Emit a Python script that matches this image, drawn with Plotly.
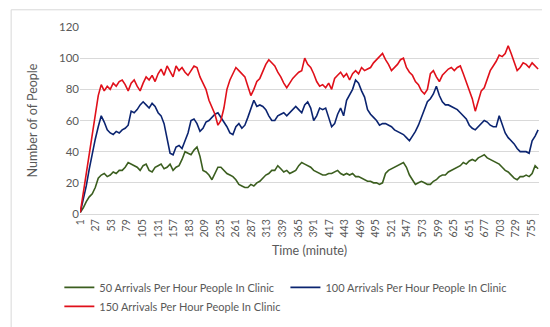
import plotly.graph_objects as go

# minutes sampled every 5 minutes (1, 6, 11, ... 766)
minutes = list(range(1, 767, 5))

arrivals_50 = [
    1, 4, 8, 11, 13, 17, 23, 25, 26, 24,
    25, 27, 26, 28, 28, 30, 33, 32, 31, 30,
    28, 31, 32, 28, 27, 30, 31, 32, 29, 30,
    32, 28, 30, 31, 35, 40, 39, 38, 41, 43,
    37, 28, 27, 25, 22, 26, 30, 30, 28, 26,
    25, 24, 22, 19, 18, 17, 17, 19, 18, 20,
    21, 23, 25, 26, 28, 28, 31, 29, 27, 28,
    26, 27, 28, 31, 33, 32, 31, 30, 28, 27,
    26, 25, 25, 26, 26, 27, 28, 26, 25, 26,
    25, 26, 24, 24, 23, 22, 21, 21, 20, 20,
    19, 20, 26, 28, 29, 30, 31, 32, 33, 30,
    25, 22, 19, 20, 21, 20, 19, 19, 21, 22,
    24, 25, 25, 27, 28, 29, 30, 31, 33, 32,
    34, 35, 34, 36, 37, 38, 36, 35, 34, 33,
    32, 30, 28, 27, 25, 23, 22, 24, 24, 25,
    24, 26, 31, 29,
]

arrivals_100 = [
    1, 9, 18, 29, 39, 48, 56, 63, 59, 54,
    52, 51, 53, 52, 54, 55, 57, 66, 65, 67,
    70, 72, 70, 68, 71, 69, 65, 63, 58, 49,
    39, 38, 43, 44, 42, 47, 52, 60, 61, 58,
    53, 55, 59, 60, 62, 64, 65, 62, 59, 56,
    52, 51, 56, 58, 55, 57, 62, 68, 73, 69,
    70, 69, 67, 63, 60, 60, 63, 64, 65, 63,
    65, 67, 69, 67, 65, 70, 72, 68, 60, 63,
    68, 67, 68, 62, 56, 58, 64, 68, 63, 73,
    77, 80, 86, 84, 79, 75, 67, 64, 62, 60,
    57, 58, 58, 57, 56, 54, 53, 52, 51, 49,
    47, 50, 53, 57, 62, 66, 72, 74, 77, 82,
    76, 72, 70, 70, 69, 68, 67, 65, 63, 61,
    57, 55, 54, 56, 58, 60, 59, 57, 56, 56,
    63, 58, 52, 49, 47, 45, 42, 40, 40, 40,
    39, 47, 50, 54,
]

arrivals_150 = [
    1, 14, 27, 38, 52, 64, 76, 83, 79, 82,
    80, 84, 82, 85, 86, 83, 79, 84, 86, 82,
    79, 84, 88, 86, 89, 85, 90, 93, 89, 95,
    91, 88, 95, 92, 94, 91, 89, 92, 95, 94,
    88, 84, 80, 73, 68, 64, 57, 60, 68, 80,
    86, 90, 94, 92, 90, 88, 82, 76, 80, 85,
    87, 92, 96, 99, 97, 95, 91, 88, 84, 81,
    84, 87, 89, 91, 92, 100, 96, 94, 90, 85,
    82, 83, 81, 84, 80, 87, 89, 91, 88, 90,
    86, 90, 92, 90, 94, 92, 93, 94, 97, 99,
    101, 103, 99, 96, 92, 94, 96, 99, 100, 94,
    91, 89, 85, 83, 79, 77, 80, 90, 92, 88,
    85, 89, 91, 93, 94, 92, 94, 95, 90, 85,
    80, 74, 66, 73, 79, 81, 86, 92, 95, 98,
    102, 101, 103, 108, 103, 97, 92, 94, 97, 96,
    94, 97, 95, 93,
]

series_names = [
    "50 Arrivals Per Hour People In Clinic",
    "100 Arrivals Per Hour People In Clinic",
    "150 Arrivals Per Hour People In Clinic",
]
series_colors = ["#3b5e1f", "#0b2470", "#e0101a"]

x_ticks = list(range(1, 756, 26))
y_ticks = [0, 20, 40, 60, 80, 100, 120]

FONT = "Lato, 'Open Sans', sans-serif"
GREY = "#595959"

fig = go.Figure()
for name, vals, col in zip(series_names, [arrivals_50, arrivals_100, arrivals_150], series_colors):
    assert len(vals) == len(minutes)
    fig.add_trace(go.Scatter(
        x=minutes, y=vals, mode="lines", name=name,
        line=dict(color=col, width=1.6),
    ))

fig.update_layout(
    width=550, height=327,
    margin=dict(l=72, r=19, t=19, b=121, autoexpand=False),
    paper_bgcolor="white", plot_bgcolor="white",
    font=dict(family=FONT, size=11, color=GREY),
    showlegend=True,
    legend=dict(
        orientation="h", x=-0.045, xanchor="left", y=-0.315, yanchor="top",
        font=dict(family=FONT, size=11, color=GREY),
        tracegroupgap=0, itemwidth=30,
    ),
    shapes=[dict(
        type="rect", xref="paper", yref="paper",
        x0=-0.150, x1=1.033, y0=-0.625, y1=1.092,
        line=dict(color="#d9d9d9", width=1), fillcolor="rgba(0,0,0,0)",
        layer="above",
    )],
)

fig.update_xaxes(
    range=[0.5, 767.5], tickmode="array", tickvals=x_ticks,
    ticktext=[str(t) for t in x_ticks], tickangle=-90,
    tickfont=dict(size=10.5, color=GREY), showgrid=False,
    showline=True, linecolor="#d9d9d9", zeroline=False, ticks="",
    title=dict(text="Time (minute)", font=dict(size=12.5, color=GREY), standoff=9),
)
fig.update_yaxes(
    range=[0, 120], tickmode="array", tickvals=y_ticks,
    tickfont=dict(size=11.5, color=GREY), showgrid=True, gridcolor="#d9d9d9",
    gridwidth=1, zeroline=False, ticks="", showline=False,
    title=dict(text="Number of of People", font=dict(size=12.5, color=GREY), standoff=18),
)

fig.write_html("out.html")
